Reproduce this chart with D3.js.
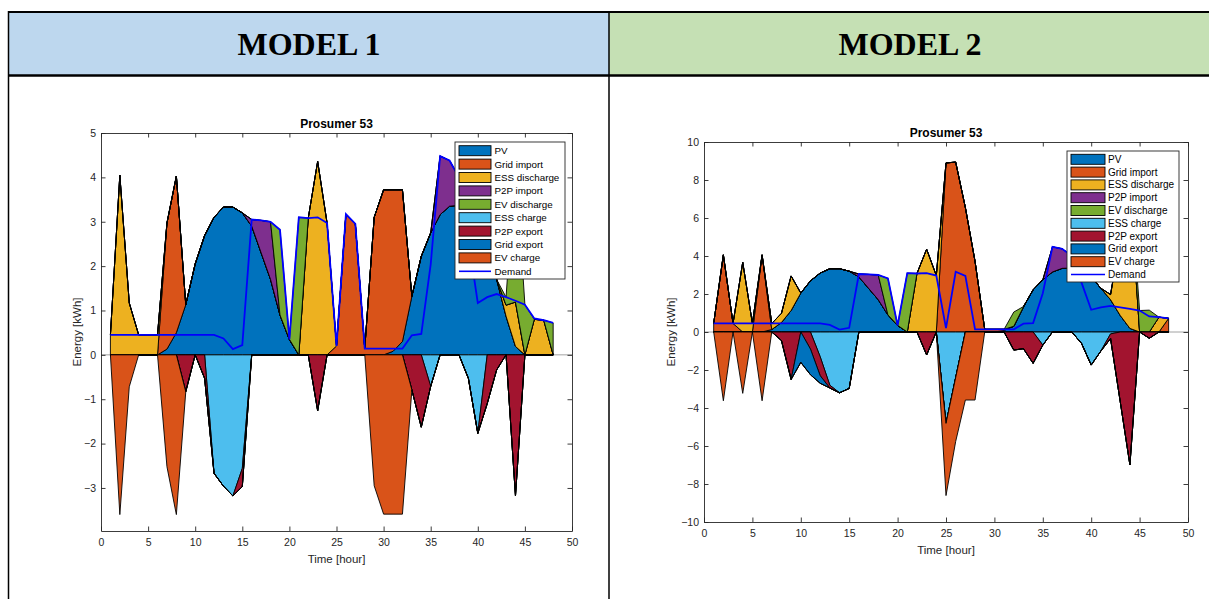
<!DOCTYPE html>
<html>
<head>
<meta charset="utf-8">
<script src="https://cdn.jsdelivr.net/npm/d3@7"></script>
<style>
  body { margin: 0; background: #fff; }
  svg { display: block; }
</style>
</head>
<body>
<svg id="page" width="1209" height="599"></svg>
<script>
// ---- data (hour 1..48) ----
var hours = d3.range(1, 49);
var xTicks = [0, 5, 10, 15, 20, 25, 30, 35, 40, 45, 50];
var yTicks1 = [-3, -2, -1, 0, 1, 2, 3, 4, 5];
var yTicks2 = [-10, -8, -6, -4, -2, 0, 2, 4, 6, 8, 10];
var modelNames = ["MODEL 1", "MODEL 2"];
var seriesNames = ["PV", "Grid import", "ESS discharge", "P2P import", "EV discharge",
                   "ESS charge", "P2P export", "Grid export", "EV charge"];
var seriesColors = ["#0072BD", "#D95319", "#EDB120", "#7E2F8E", "#77AC30",
                    "#4DBEEE", "#A2142F", "#0072BD", "#D95319"];

// shared by both models
var pv = [0,0,0,0,0,0, 0.13,0.5,1.13,2.05,2.69,3.1,3.33,3.33,3.2,2.9,2.3,1.7,0.9,0.34,
          0,0,0,0,0,0,0,0,0,0, 0.08,0.3,1.32,2.22,2.75,3.16,3.35,3.37,3.2,2.9,2.3,1.7,0.87,0.19,
          0,0,0,0];
var demand = [0.45,0.45,0.45,0.45,0.45,0.45,0.45,0.45,0.45,0.45,0.45,0.45,
              0.37,0.13,0.22,3.05,3.03,3.0,2.82,0.35,3.1,3.08,3.1,2.97,0.2,3.17,2.95,
              0.14,0.14,0.14,0.14,0.14,0.44,0.47,2.04,4.48,4.38,4.0,2.6,1.17,1.3,1.37,
              1.3,1.22,1.13,0.82,0.78,0.72];

// model 1
var m1GridImport = [0,0,0,0,0,0, 2.84,3.53,0,0,0,0,0,0,0,0,0,0,0,0,0,0,0,0,
                    0.2,3.17,2.95,0.14,3.1,3.72,3.64,3.42,0,0,0,0,0,0,0,0,0,0,0,0,0,0,0,0];
var m1EssDischarge = [0.45,4.05,1.17,0.45,0.45,0.45,0,0,0,0,0,0,0,0,0,0,0,0,0,0.01,0,3.08,4.36,2.97,
                      0,0,0,0,0,0,0,0,0,0,0,0,0,0,0,0,0,0,0.25,1.0,0,0.8,0.78,0];
var m1P2pImport = [0,0,0,0,0,0,0,0,0,0,0,0,0,0,0,0.15,0.73,1.3,0,0,0,0,0,0,
                   0,0,0,0,0,0,0,0,0,0,0,1.32,1.03,0.63,0,0,0,0,0,0,0,0,0,0];
var m1EvDischarge = [0,0,0,0,0,0,0,0,0,0,0,0,0,0,0,0,0,0,1.92,0,3.1,0,0,0,
                     0,0,0,0,0,0,0,0,0,0,0,0,0,0,0,0,0,0,0.18,3.2,1.13,0,0,0.72];
var m1EssCharge = [0,0,0,0,0,0,0,0,0,0,0,-2.67,-2.96,-3.18,-2.56,0,0,0,0,0,0,0,0,0,
                   0,0,0,0,0,0,0,0,0,0,-0.71,0,0,0,-0.53,-1.77,0,0,0,0,0,0,0,0];
var m1P2pExport = [0,0,0,0,0,0,0,0,-0.83,0,-0.53,0,0,0,-0.41,0,0,0,0,0,0,0,-1.26,0,
                   0,0,0,0,0,0,0,0,-0.79,-1.63,0,0,0,0,0,0,-1.1,-0.34,0,-3.18,0,0,0,0];
var m1GridExport = [0,0,0,0,0,0,0,0,0,0,0,0,0,0,0,0,0,0,0,0,0,0,0,0,
                    0,0,0,0,0,0,0,0,0,0,0,0,0,0,0,0,0,0,0,0,0,0,0,0];
var m1EvCharge = [0,-3.6,-0.72,0,0,0,-2.52,-3.6,0,0,0,0,0,0,0,0,0,0,0,0,0,0,0,0,
                  0,0,0,0,-2.95,-3.59,-3.59,-3.59,0,0,0,0,0,0,0,0,0,0,0,0,0,0,0,0];

// model 2
var m2GridImport = [0.45,4.06,0.45,0,0,4.06,0,0,0,0,0,0,0,0,0,0,0,0,0,0,0,0,0,0,
                    8.9,8.94,6.55,3.72,0.14,0.14,0.06,0,0,0,0,0,0,0,0,0,0,0,0,0,0,0,0,0.72];
var m2EssDischarge = [0,0,0,3.67,0.45,0,0.32,0.48,1.82,0,0,0,0,0,0,0,0,0,0,0.01,0,3.08,4.36,2.97,
                      0,0,0,0,0,0,0,0,0,0,0,0,0,0,0,0,0,0.27,4.1,7.5,0,0,0.78,0];
var m2P2pImport = [0,0,0,0,0,0,0,0,0,0,0,0,0,0,0,0.15,0.73,1.3,0,0,0,0,0,0,
                   0,0,0,0,0,0,0,0,0,0,0,1.32,1.03,0.63,0,0,0,0,0,0,0,0,0,0];
var m2EvDischarge = [0,0,0,0,0,0,0,0,0,0,0,0,0,0,0,0,0,0,1.92,0,3.1,0,0,0,
                     0,0,0,0,0,0,0,0.75,0.02,0,0,0,0,0,0,0,0,0,0,0.54,1.13,1.15,0,0];
var m2EssCharge = [0,0,0,0,0,0,0,0,0,0,0,-1.3,-2.8,-3.2,-2.97,0,0,0,0,0,0,0,0,0,
                   -4.81,-2.4,0,0,0,0,0,0,0,0,-0.69,0,0,0,-0.6,-1.74,-1.0,-0.1,0,0,0,0,0,0];
var m2P2pExport = [0,0,0,0,0,0,0,-0.45,-2.5,0,-0.9,-1.0,-0.15,0,0,0,0,0,0,0,0,0,-1.21,0,
                   0,0,0,0,0,0,0,-0.95,-0.88,-1.65,0,0,0,0,0,0,0,-0.25,-3.67,-7.0,0,-0.33,0,0];
var m2GridExport = [0,0,0,0,0,0,0,0,0,-1.6,-1.35,-0.4,0,0,0,0,0,0,0,0,0,0,0,0,
                    0,0,0,0,0,0,0,0,0,0,0,0,0,0,0,0,0,0,0,0,0,0,0,0];
var m2EvCharge = [0,-3.62,0,-3.23,0,-3.62,0,0,0,0,0,0,0,0,0,0,0,0,0,0,0,0,0,0,
                  -3.8,-3.36,-3.58,-3.58,0,0,0,0,0,0,0,0,0,0,0,0,0,0,0,0,0,0,0,0];

var svg = d3.select("#page");
var axisColor = "#262626";
var sans = "'Liberation Sans', Arial, Helvetica, sans-serif";

// ---- table frame ----
svg.append("rect").attr("x", 9).attr("y", 13).attr("width", 600).attr("height", 62).attr("fill", "#bdd7ee");
svg.append("rect").attr("x", 609).attr("y", 13).attr("width", 600).attr("height", 62).attr("fill", "#c5e0b4");
svg.append("line").attr("x1", 8).attr("x2", 1209).attr("y1", 12).attr("y2", 12).attr("stroke", "#000").attr("stroke-width", 2);
svg.append("line").attr("x1", 8).attr("x2", 1209).attr("y1", 75.5).attr("y2", 75.5).attr("stroke", "#000").attr("stroke-width", 2.5);
svg.append("line").attr("x1", 8.5).attr("x2", 8.5).attr("y1", 11).attr("y2", 599).attr("stroke", "#000").attr("stroke-width", 1.5);
svg.append("line").attr("x1", 609).attr("x2", 609).attr("y1", 11).attr("y2", 599).attr("stroke", "#000").attr("stroke-width", 1.5);
svg.selectAll("text.model").data(modelNames).enter().append("text")
    .attr("class", "model")
    .attr("x", function(d, i){ return i == 0 ? 309 : 910; })
    .attr("y", 55)
    .attr("text-anchor", "middle")
    .attr("font-family", "'Liberation Serif', 'Times New Roman', serif")
    .attr("font-weight", "bold")
    .attr("font-size", 32)
    .attr("fill", "#000")
    .text(function(d){ return d; });

function drawChart(c){
    var x = d3.scaleLinear().domain([0, 50]).range([c.left, c.right]);
    var y = d3.scaleLinear().domain(c.yDomain).range([c.bottom, c.top]);
    var rows = hours.map(function(h, i){
        var r = {hour: h};
        c.pos.forEach(function(s, k){ r["p" + k] = s[i]; });
        c.neg.forEach(function(s, k){ r["n" + k] = s[i]; });
        return r;
    });
    var posStack = d3.stack().keys(c.pos.map(function(s, k){ return "p" + k; }))(rows);
    var negStack = d3.stack().keys(c.neg.map(function(s, k){ return "n" + k; }))(rows);
    var g = svg.append("g");

    // area baseline across axes
    g.append("line")
        .attr("x1", c.left).attr("x2", c.right)
        .attr("y1", y(0)).attr("y2", y(0))
        .attr("stroke", "#8c8c8c").attr("stroke-width", 0.8);

    var area = d3.area()
        .x(function(d){ return x(d.data.hour); })
        .y0(function(d){ return y(d[0]); })
        .y1(function(d){ return y(d[1]); });
    posStack.concat(negStack).forEach(function(layer, k){
        g.append("path")
            .attr("d", area(layer))
            .attr("fill", seriesColors[k])
            .attr("stroke", "#000")
            .attr("stroke-width", 0.9);
    });

    var line = d3.line()
        .x(function(d, i){ return x(hours[i]); })
        .y(function(d){ return y(d); });
    g.append("path")
        .attr("d", line(demand))
        .attr("fill", "none")
        .attr("stroke", "#0000ff")
        .attr("stroke-width", 1.8);

    // axes with inward ticks on all sides
    function style(a){
        a.selectAll("path,line").attr("stroke", axisColor).attr("stroke-width", 0.9);
        a.selectAll("text").attr("fill", axisColor).attr("font-family", sans).attr("font-size", 10.5);
    }
    var ax;
    ax = svg.append("g").attr("transform", "translate(0," + c.bottom + ")")
        .call(d3.axisBottom(x).tickValues(xTicks).tickSizeInner(-4.5).tickSizeOuter(0).tickPadding(8));
    style(ax);
    ax = svg.append("g").attr("transform", "translate(0," + c.top + ")")
        .call(d3.axisTop(x).tickValues(xTicks).tickSizeInner(-4.5).tickSizeOuter(0).tickFormat(""));
    style(ax);
    ax = svg.append("g").attr("transform", "translate(" + c.left + ",0)")
        .call(d3.axisLeft(y).tickValues(c.yTicks).tickSizeInner(-4.5).tickSizeOuter(0).tickPadding(5));
    style(ax);
    ax = svg.append("g").attr("transform", "translate(" + c.right + ",0)")
        .call(d3.axisRight(y).tickValues(c.yTicks).tickSizeInner(-4.5).tickSizeOuter(0).tickFormat(""));
    style(ax);

    var cx = (c.left + c.right) / 2;
    svg.append("text").attr("x", cx).attr("y", c.titleY)
        .attr("text-anchor", "middle").attr("font-family", sans).attr("font-weight", "bold")
        .attr("font-size", 12).attr("fill", "#000").text("Prosumer 53");
    svg.append("text").attr("x", cx).attr("y", c.xLabelY)
        .attr("text-anchor", "middle").attr("font-family", sans)
        .attr("font-size", 11.5).attr("fill", axisColor).text("Time [hour]");
    svg.append("text")
        .attr("transform", "translate(" + c.yLabelX + "," + ((c.top + c.bottom) / 2) + ") rotate(-90)")
        .attr("text-anchor", "middle").attr("font-family", sans)
        .attr("font-size", 11.5).attr("fill", axisColor).text("Energy [kWh]");

    // legend
    var L = c.legend;
    var lg = svg.append("g");
    lg.append("rect").attr("x", L.x).attr("y", L.y).attr("width", L.w).attr("height", L.h)
        .attr("fill", "#fff").attr("stroke", axisColor).attr("stroke-width", 0.9);
    var items = seriesNames.concat(["Demand"]);
    items.forEach(function(name, k){
        var cy = L.row0 + k * L.step;
        if (k < seriesNames.length) {
            lg.append("rect").attr("x", L.sx).attr("y", cy - 5).attr("width", L.sw).attr("height", 10)
                .attr("fill", seriesColors[k]).attr("stroke", "#000").attr("stroke-width", 0.9);
        } else {
            lg.append("line").attr("x1", L.sx).attr("x2", L.sx + L.sw).attr("y1", cy).attr("y2", cy)
                .attr("stroke", "#0000ff").attr("stroke-width", 1.6);
        }
        lg.append("text").attr("x", L.tx).attr("y", cy).attr("dy", "0.35em")
            .attr("font-family", sans).attr("font-size", L.fs).attr("fill", "#000").text(name);
    });
}

drawChart({
    left: 101, right: 572, top: 133, bottom: 531,
    yDomain: [-3.97, 5], yTicks: yTicks1,
    pos: [pv, m1GridImport, m1EssDischarge, m1P2pImport, m1EvDischarge],
    neg: [m1EssCharge, m1P2pExport, m1GridExport, m1EvCharge],
    titleY: 128, xLabelY: 563, yLabelX: 81,
    legend: {x: 455, y: 142, w: 110, h: 137, sx: 459, sw: 32, tx: 494.5, row0: 150.7, step: 13.4, fs: 9.8}
});
drawChart({
    left: 704, right: 1188, top: 142, bottom: 522,
    yDomain: [-10, 10], yTicks: yTicks2,
    pos: [pv, m2GridImport, m2EssDischarge, m2P2pImport, m2EvDischarge],
    neg: [m2EssCharge, m2P2pExport, m2GridExport, m2EvCharge],
    titleY: 137, xLabelY: 554, yLabelX: 675,
    legend: {x: 1067, y: 151, w: 112, h: 131, sx: 1071, sw: 34, tx: 1108, row0: 159.3, step: 12.8, fs: 10}
});
</script>
</body>
</html>
